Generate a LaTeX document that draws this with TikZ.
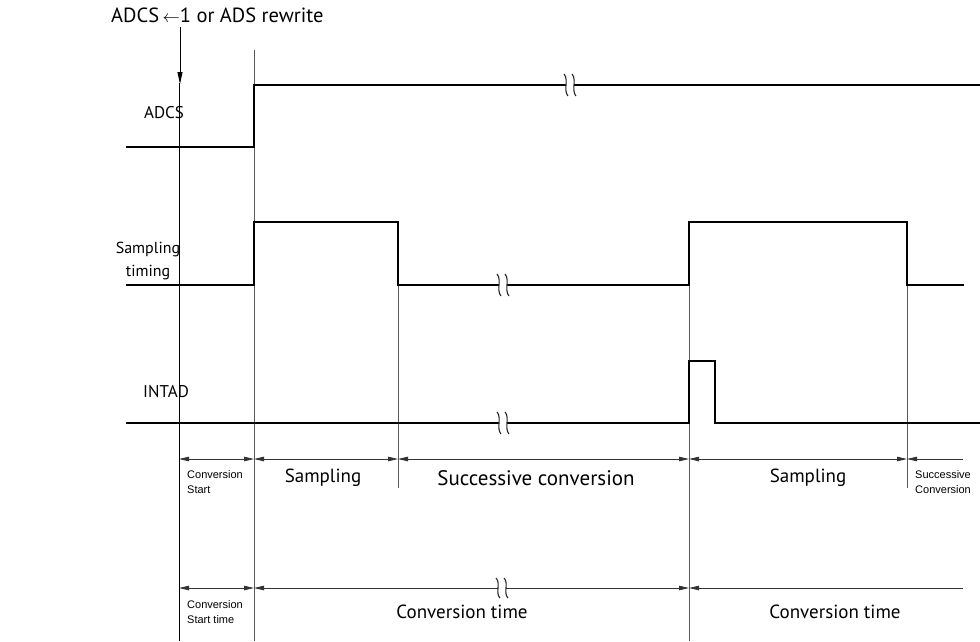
\documentclass[tikz,border=0pt]{standalone}
\usepackage{fontspec}
\setmainfont{PT Sans}
\newfontfamily\smallf{Liberation Sans}
\usetikzlibrary{arrows.meta}
\begin{document}
\begin{tikzpicture}[x=1pt,y=-1pt,
  sig/.style={line width=2.8pt,line cap=rect},
  guide/.style={line width=0.9pt,draw=black!65},
  guideb/.style={line width=0.9pt,draw=black},
  dim/.style={line width=0.8pt,draw=black!80},
  tip/.tip={Triangle[length=10pt,width=4.5pt]},
  dimarr/.style={dim,{tip}-{tip}},
  lbl/.style={font=\fontsize{19}{21}\selectfont,inner sep=0pt},
  sigl/.style={font=\fontsize{16}{23}\selectfont,inner sep=0pt},
  slbl/.style={font=\smallf\fontsize{11}{15}\selectfont,inner sep=0pt,align=left,anchor=west},
  squig/.style={line width=1.1pt,draw=black!85}
]
\useasboundingbox (0,0) rectangle (980,641);
\fill[white] (0,0) rectangle (980,641);

% guide lines
\draw[guideb] (179,83) -- (179,641);
\draw[guide] (254,50) -- (254,641);
\draw[guide] (398,285) -- (398,488);
\draw[guide] (689,285) -- (689,641);
\draw[guide] (907,285) -- (907,488);

% top label and arrow
\node[inner sep=0pt,font=\fontsize{20.5}{22}\selectfont,anchor=west] (toplbl) at (111,15) {ADCS\,{\fontsize{16}{16}\selectfont$\leftarrow$}1 or ADS rewrite};
\coordinate (arrtop) at (180,27);
\coordinate (arrtip) at (180,84);
\draw[line width=0.9pt,-{Triangle[length=12pt,width=5pt]}] (arrtop) -- (arrtip);

% signal labels
\node[sigl,font=\fontsize{17}{19}\selectfont] (lADCS) at (164,113) {ADCS};
\node[sigl,align=center] (lSamp) at (148,261) {Sampling\\timing};
\node[sigl,font=\fontsize{17}{19}\selectfont] (lINT) at (166,392) {INTAD};

% signals
\draw[sig] (127,147) -- (254,147) -- (254,85) -- (980,85);
\draw[sig] (127,285) -- (254,285) -- (254,222) -- (398,222) -- (398,285) -- (689,285) -- (689,222) -- (907,222) -- (907,285) -- (963,285);
\draw[sig] (127,423) -- (689,423) -- (689,361) -- (715,361) -- (715,423) -- (980,423);

% breaks
\foreach \bx/\by/\h in {570/85/11, 503/285/11, 503/423/11}{
  \fill[white] (\bx-4,\by-3) rectangle (\bx+4,\by+3);
  \draw[squig] (\bx-6,\by-\h) .. controls (\bx-1,\by-\h/2) and (\bx-7,\by+\h/2) .. (\bx-2,\by+\h);
  \draw[squig] (\bx+2,\by-\h) .. controls (\bx+7,\by-\h/2) and (\bx+1,\by+\h/2) .. (\bx+6,\by+\h);
}

% dimension row 1
\draw[dimarr] (179,459) -- (254,459);
\draw[dimarr] (254,459) -- (398,459);
\draw[dimarr] (398,459) -- (689,459);
\draw[dimarr] (689,459) -- (907,459);
\draw[dim,{tip}-] (907,459) -- (963,459);

\node[slbl] (cs) at (187,482) {Conversion\\Start};
\node[lbl] (s1) at (323,478) {Sampling};
\node[lbl,font=\fontsize{21}{23}\selectfont] (sc) at (536,478) {Successive conversion};
\node[lbl] (s2) at (808,478) {Sampling};
\node[slbl] (sc2) at (915,482) {Successive\\Conversion};

% dimension row 2
\draw[dimarr] (179,588) -- (254,588);
\draw[dim,{tip}-] (254,588) -- (497,588);
\draw[dim,-{tip}] (508,588) -- (689,588);
\draw[dim] (496,588) -- (508,588);
\foreach \bx/\by/\h in {502/588/10}{
  \fill[white] (\bx-4,\by-3) rectangle (\bx+4,\by+3);
  \draw[squig] (\bx-6,\by-\h) .. controls (\bx-1,\by-\h/2) and (\bx-7,\by+\h/2) .. (\bx-2,\by+\h);
  \draw[squig] (\bx+2,\by-\h) .. controls (\bx+7,\by-\h/2) and (\bx+1,\by+\h/2) .. (\bx+6,\by+\h);
}
\draw[dim,{tip}-] (689,588) -- (963,588);

\node[slbl] (cst) at (187,612) {Conversion\\Start time};
\node[lbl] (ct1) at (462,612) {Conversion time};
\node[lbl] (ct2) at (835,612) {Conversion time};
\end{tikzpicture}
\end{document}
